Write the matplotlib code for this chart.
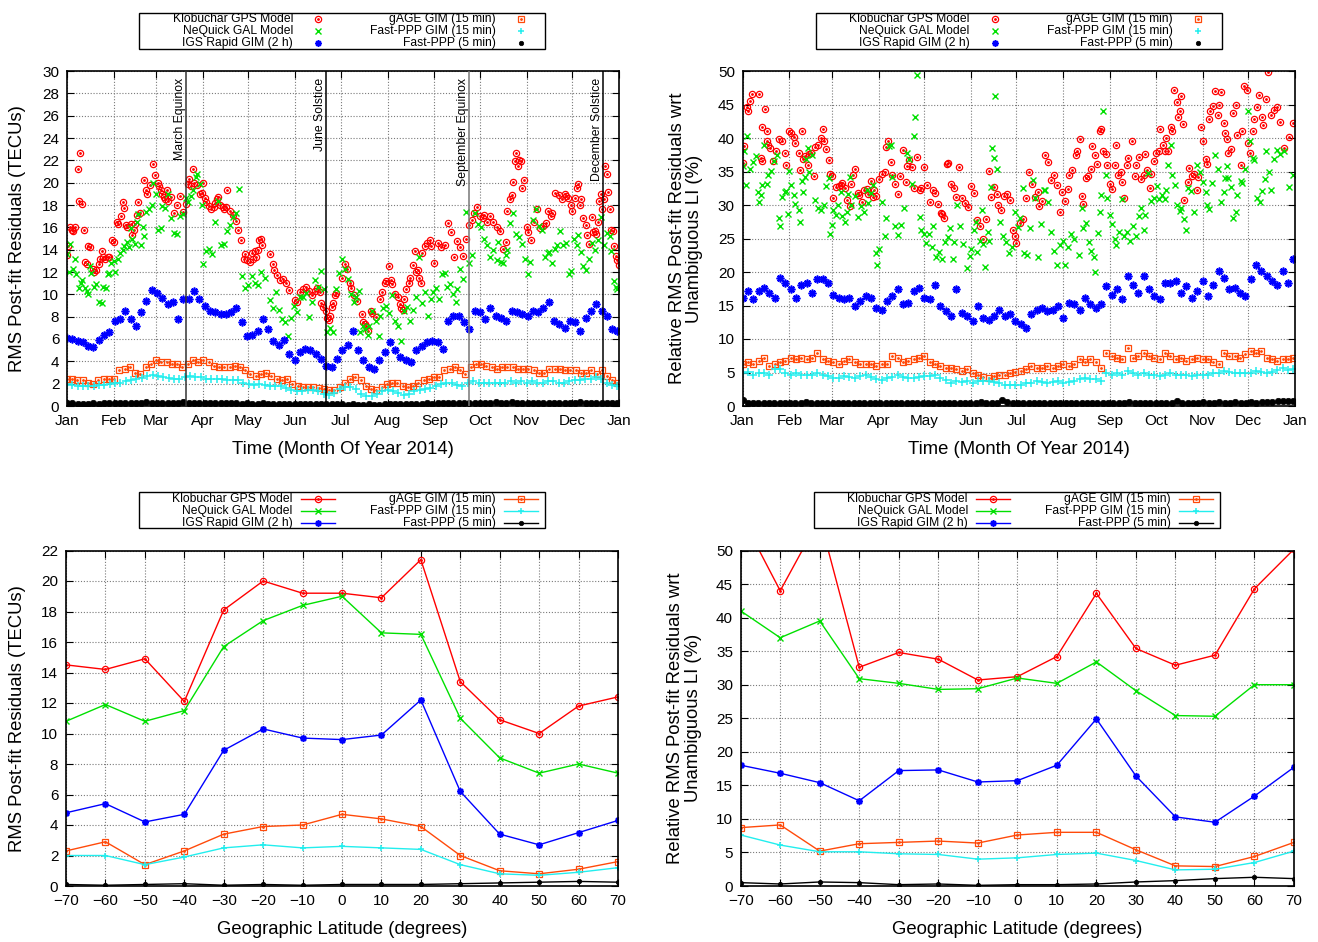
import matplotlib
matplotlib.use("Agg")
import matplotlib.pyplot as plt
from matplotlib.lines import Line2D
from matplotlib.patches import Rectangle
import numpy as np

plt.rcParams['font.family'] = ['Liberation Sans', 'DejaVu Sans']

W, H = 1318, 942

# ---------------- data ----------------
names = ['Klobuchar GPS Model', 'NeQuick GAL Model', 'IGS Rapid GIM (2 h)',
         'gAGE GIM (15 min)', 'Fast-PPP GIM (15 min)', 'Fast-PPP (5 min)']

month_labels = ['Jan', 'Feb', 'Mar', 'Apr', 'May', 'Jun', 'Jul', 'Aug',
                'Sep', 'Oct', 'Nov', 'Dec', 'Jan']
month_start = [0, 31, 59, 90, 120, 151, 181, 212, 243, 273, 304, 334, 365]
event_names = ['March Equinox', 'June Solstice', 'September Equinox', 'December Solstice']
event_day = [78.5, 171.5, 265.5, 354.5]

# --- top left: RMS post-fit residuals (TECUs), scattered series as (day, value) ---
tl_klob = [(0, 13.5), (0.5, 14.3), (2, 16.0), (3, 15.8), (4, 15.7), (5, 16.0), (7, 21.2), (8, 18.4),
           (8.5, 22.7), (10, 18.1), (11, 15.8), (12, 12.9), (13, 12.7), (14, 14.3), (15, 14.2),
           (17, 12.3), (18, 12.0), (19, 12.2), (21, 12.7), (22, 13.2), (23, 13.9), (24, 13.3),
           (25, 13.2), (27, 13.3), (28, 13.3), (30, 14.9), (31, 14.7), (33, 16.5), (34, 16.3),
           (36, 17.0), (37, 18.3), (38, 17.7), (39, 16.2), (40, 16.0), (42, 16.3), (43, 15.3),
           (44, 15.8), (45, 16.3), (46, 17.1), (47, 18.3), (48, 17.3), (51, 20.2), (52, 19.3),
           (53, 19.0), (55, 19.8), (57, 21.7), (58, 20.7), (60, 20.0), (61, 19.7), (62, 19.3),
           (63, 19.0), (64, 18.7), (65, 18.5), (66, 19.3), (67, 18.4), (69, 18.7), (71, 17.3),
           (73, 18.0), (75, 18.8), (77, 17.4), (79, 18.1), (80, 19.9), (81, 20.3), (82, 19.7),
           (83, 21.2), (84, 20.0), (86, 19.8), (88, 19.0), (89, 19.1), (90, 20.0), (91, 18.6),
           (92, 18.3), (94, 17.9), (95, 17.6), (97, 17.8), (98, 18.2), (99, 18.5), (100, 18.7),
           (101, 18.0), (103, 17.8), (104, 17.6), (105, 17.8), (106, 19.3), (108, 17.5),
           (110, 17.1), (112, 16.6), (113, 15.8), (115, 14.9), (117, 13.2), (118, 13.6),
           (119, 13.1), (121, 12.9), (122, 13.7), (123, 13.2), (124, 13.9), (125, 13.3),
           (126, 14.0), (127, 14.9), (128, 15.0), (129, 14.4), (134, 13.6), (136, 12.7),
           (137, 12.2), (139, 11.7), (141, 11.3), (143, 11.4), (145, 11.0), (147, 10.4),
           (151, 9.5), (152, 9.3), (154, 10.2), (156, 10.5), (158, 10.7), (160, 10.3), (162, 9.9),
           (164, 10.3), (165, 10.6), (167, 10.2), (168, 9.2), (169, 8.9), (171, 8.5), (172, 7.9),
           (173, 7.7), (174, 8.1), (175, 8.9), (176, 9.2), (177, 9.9), (178, 10.1), (182, 11.5),
           (184, 12.7), (185, 12.3), (187, 11.0), (188, 10.6), (190, 9.9), (192, 9.4), (195, 8.2),
           (196, 7.5), (197, 7.3), (198, 7.2), (199, 6.7), (201, 8.5), (202, 8.3), (204, 8.0),
           (207, 9.6), (208, 10.2), (210, 11.0), (211, 11.2), (213, 12.5), (214, 11.3),
           (215, 10.9), (217, 10.0), (219, 9.8), (220, 9.1), (221, 8.8), (222, 8.6), (223, 9.6),
           (224, 10.5), (226, 11.0), (227, 11.5), (229, 12.6), (230, 13.9), (231, 12.0),
           (232, 12.2), (233, 11.5), (234, 11.0), (235, 13.7), (237, 14.3), (238, 14.6),
           (240, 14.9), (241, 14.3), (243, 12.8), (245, 14.6), (247, 14.2), (250, 14.4),
           (252, 16.4), (254, 15.6), (256, 13.3), (258, 14.8), (260, 14.2), (262, 13.4),
           (264, 15.0), (266, 16.2), (268, 16.7), (269, 17.3), (271, 17.8), (273, 17.0),
           (275, 16.8), (276, 17.1), (278, 16.5), (280, 17.0), (282, 16.5), (284, 16.0),
           (286, 15.7), (288, 14.1), (290, 14.7), (291, 17.5), (293, 18.5), (294, 18.9),
           (295, 20.1), (296, 21.9), (297, 22.7), (298, 21.5), (299, 22.0), (300, 21.9),
           (301, 19.5), (302, 20.2), (304, 16.0), (305, 15.6), (307, 14.9), (309, 16.5),
           (311, 17.6), (313, 15.9), (315, 16.1), (317, 16.4), (318, 17.5), (320, 17.0),
           (321, 17.3), (323, 19.1), (325, 18.9), (327, 18.5), (329, 19.0), (330, 18.8),
           (331, 18.6), (333, 18.0), (334, 17.5), (336, 18.6), (337, 19.5), (338, 19.9),
           (339, 18.0), (340, 18.5), (341, 16.8), (343, 16.2), (344, 15.3), (345, 14.5),
           (347, 16.9), (348, 15.6), (349, 15.7), (350, 15.4), (351, 16.5), (352, 18.4),
           (353, 19.0), (354, 17.6), (355, 18.5), (356, 21.5), (357, 20.8), (357.5, 19.2),
           (359, 17.6), (360, 15.8), (361, 15.7), (362, 14.3), (363, 13.4), (364, 13.1),
           (365, 12.6)]

tl_neq = [(0, 13.6), (1, 12.0), (2, 14.5), (4, 12.3), (5, 13.2), (6, 11.8), (8, 10.6), (9, 11.0),
          (10, 11.3), (12, 10.6), (13, 10.3), (14, 10.0), (15, 12.5), (16, 11.9), (18, 10.7),
          (19, 10.9), (21, 9.3), (23, 9.2), (24, 10.7), (26, 10.6), (27, 11.8), (28, 11.9),
          (29, 12.8), (31, 13.0), (32, 12.0), (34, 13.2), (35, 13.7), (37, 14.0), (38, 14.3),
          (40, 14.7), (41, 14.2), (42, 15.9), (43, 15.0), (45, 14.5), (46, 16.5), (47, 17.2),
          (49, 14.4), (50, 16.0), (51, 15.2), (52, 17.4), (54, 17.6), (56, 18.0), (57, 20.0),
          (59, 19.0), (60, 15.8), (62, 15.9), (63, 17.9), (65, 17.7), (67, 19.0), (69, 16.8),
          (71, 15.5), (73, 15.4), (75, 17.0), (77, 17.2), (79, 18.6), (80, 18.3), (82, 18.8),
          (83, 19.3), (85, 20.5), (86, 20.8), (88, 19.9), (89, 18.0), (90, 12.7), (92, 13.9),
          (94, 14.1), (96, 13.6), (98, 16.5), (100, 18.4), (102, 14.4), (104, 14.5), (106, 15.7),
          (108, 16.2), (110, 16.9), (112, 17.3), (114, 19.4), (116, 11.6), (118, 10.6),
          (120, 10.8), (122, 11.6), (124, 11.0), (126, 10.8), (128, 12.0), (131, 11.5), (134, 9.5),
          (136, 8.8), (138, 10.2), (140, 8.6), (142, 7.8), (144, 7.5), (146, 6.3), (148, 7.9),
          (150, 9.0), (152, 8.4), (154, 9.8), (156, 9.8), (158, 10.1), (160, 8.0), (162, 9.3),
          (164, 11.3), (166, 10.7), (168, 12.1), (170, 10.5), (172, 6.6), (174, 7.0), (176, 6.6),
          (178, 10.5), (180, 11.9), (182, 13.2), (184, 12.3), (186, 11.4), (188, 10.0), (190, 9.3),
          (191, 9.8), (193, 10.3), (194, 6.6), (196, 7.2), (197, 6.9), (199, 6.4), (200, 7.2),
          (202, 8.5), (204, 7.6), (206, 6.3), (207, 8.1), (209, 8.8), (211, 9.0), (213, 8.3),
          (215, 9.9), (217, 7.6), (219, 7.2), (221, 5.8), (223, 8.5), (225, 8.9), (227, 7.6),
          (229, 8.6), (231, 9.8), (233, 13.3), (235, 9.2), (237, 10.2), (239, 8.1), (241, 9.6),
          (242, 10.2), (244, 10.6), (246, 9.6), (248, 11.8), (250, 11.9), (251, 10.7), (253, 10.9),
          (255, 10.0), (257, 9.3), (258, 10.5), (260, 12.3), (262, 11.4), (264, 17.4), (266, 12.8),
          (268, 13.5), (270, 17.3), (272, 16.3), (274, 16.0), (276, 15.0), (278, 14.4),
          (280, 13.3), (282, 14.0), (284, 13.1), (285, 14.7), (287, 12.9), (288, 12.8),
          (290, 13.5), (291, 14.0), (293, 16.4), (295, 17.3), (297, 15.4), (299, 15.1),
          (301, 14.5), (303, 13.2), (305, 11.8), (306, 12.9), (308, 16.7), (310, 17.6),
          (312, 16.1), (314, 15.8), (316, 13.3), (318, 13.7), (319, 13.8), (321, 12.8),
          (323, 14.1), (324, 14.4), (326, 15.7), (328, 14.4), (330, 14.6), (332, 11.8),
          (333, 12.1), (335, 15.0), (337, 14.4), (338, 15.3), (340, 13.8), (341, 12.5),
          (343, 12.2), (345, 13.2), (347, 14.6), (349, 14.0), (351, 14.9), (353, 16.9),
          (355, 14.4), (357, 15.5), (359, 15.2), (360, 13.9), (362, 11.2), (363, 10.7), (364, 10.5)]

# dense series, read at evenly spaced days from Jan 1 to Dec 31
tl_igs = [6.1, 6.0, 5.8, 5.7, 5.4, 5.3, 5.9, 6.4, 6.6, 7.6,
          7.8, 8.5, 7.8, 7.2, 8.4, 9.4, 10.4, 10.1, 9.7, 9.1,
          9.3, 7.8, 9.6, 9.6, 10.3, 9.6, 9.0, 8.5, 8.4, 8.2,
          8.2, 8.4, 8.8, 7.5, 6.3, 6.4, 6.7, 7.8, 6.9, 5.8,
          5.5, 5.9, 4.7, 4.1, 4.8, 5.1, 5.0, 4.7, 4.2, 3.6,
          3.5, 4.2, 5.0, 5.5, 6.7, 5.0, 4.1, 3.5, 3.3, 4.1,
          4.8, 5.7, 5.0, 4.4, 4.1, 3.9, 5.0, 5.4, 5.7, 5.8,
          5.7, 5.1, 7.6, 8.1, 8.1, 7.5, 6.9, 8.5, 8.4, 7.8,
          8.8, 8.1, 7.9, 7.6, 8.5, 8.4, 8.2, 8.1, 8.5, 8.4,
          8.8, 9.3, 7.6, 7.3, 7.0, 7.6, 7.5, 6.7, 7.9, 8.5,
          9.1, 8.5, 8.1, 6.9, 6.7]
tl_gage = [2.4, 2.4, 2.3, 2.3, 2.1, 2.0, 2.3, 2.4, 2.4, 2.4,
           3.2, 3.3, 3.5, 3.0, 2.9, 3.5, 3.8, 4.1, 3.9, 3.9,
           3.8, 3.8, 3.5, 3.8, 4.1, 3.9, 4.1, 3.9, 3.6, 3.5,
           3.5, 3.5, 3.6, 3.5, 3.2, 2.9, 2.7, 2.9, 3.0, 2.7,
           2.4, 2.3, 2.4, 2.0, 1.8, 1.7, 1.7, 1.7, 1.6, 1.5,
           1.4, 1.4, 1.7, 2.1, 2.4, 2.6, 2.3, 1.8, 1.5, 1.4,
           1.7, 2.0, 2.1, 2.1, 1.8, 1.7, 1.8, 2.1, 2.3, 2.4,
           2.6, 2.6, 3.2, 3.3, 3.5, 3.2, 2.9, 3.5, 3.8, 3.8,
           3.6, 3.5, 3.3, 3.5, 3.5, 3.5, 3.3, 3.3, 3.3, 3.2,
           3.0, 3.0, 3.3, 3.3, 3.3, 3.2, 3.2, 3.2, 3.0, 3.0,
           3.2, 2.9, 3.2, 2.7, 2.3, 2.1]
tl_fgim = [2.0, 1.9, 1.8, 1.8, 1.8, 1.8, 1.9, 1.9, 2.0, 2.1,
           2.1, 2.2, 2.3, 2.4, 2.5, 2.7, 2.8, 2.7, 2.6, 2.5,
           2.4, 2.4, 2.6, 2.7, 2.6, 2.6, 2.4, 2.4, 2.4, 2.4,
           2.3, 2.3, 2.3, 2.1, 2.0, 1.9, 2.0, 1.9, 1.8, 1.8,
           1.8, 1.6, 1.4, 1.3, 1.3, 1.4, 1.4, 1.3, 1.1, 1.0,
           1.2, 1.5, 1.7, 1.7, 1.5, 1.1, 0.9, 0.9, 1.1, 1.3,
           1.4, 1.3, 1.2, 1.0, 1.1, 1.3, 1.4, 1.5, 1.6, 1.8,
           2.0, 2.1, 2.1, 1.9, 1.8, 2.1, 2.2, 2.1, 2.1, 2.1,
           2.1, 2.1, 2.1, 2.2, 2.1, 2.2, 2.1, 2.2, 2.1, 2.1,
           2.2, 2.2, 2.1, 2.1, 2.2, 2.3, 2.3, 2.4, 2.4, 2.6,
           2.4, 2.1, 1.9, 1.8]
tl_fppp = [0.3, 0.25, 0.2, 0.2, 0.2, 0.25, 0.2, 0.25, 0.3, 0.25,
           0.3, 0.3, 0.25, 0.3, 0.3, 0.35, 0.3, 0.3, 0.3, 0.25,
           0.3, 0.3, 0.35, 0.3, 0.3, 0.3, 0.25, 0.3, 0.3, 0.25,
           0.3, 0.25, 0.25, 0.2, 0.25, 0.2, 0.2, 0.25, 0.2, 0.2,
           0.2, 0.2, 0.15, 0.2, 0.2, 0.15, 0.2, 0.15, 0.15, 0.2,
           0.15, 0.2, 0.15, 0.1, 0.15, 0.1, 0.1, 0.15, 0.1, 0.1,
           0.15, 0.15, 0.2, 0.15, 0.2, 0.2, 0.2, 0.2, 0.25, 0.2,
           0.25, 0.25, 0.25, 0.3, 0.3, 0.25, 0.3, 0.3, 0.3, 0.3,
           0.3, 0.35, 0.3, 0.3, 0.35, 0.3, 0.3, 0.3, 0.25, 0.3,
           0.3, 0.3, 0.3, 0.25, 0.3, 0.3, 0.3, 0.35, 0.3, 0.3,
           0.3, 0.3, 0.3, 0.3, 0.3]

# --- top right: relative RMS wrt unambiguous LI (%) ---
tr_klob = [(0, 36.3), (1, 38.8), (3, 44.6), (3.5, 44.0), (5, 45.5), (6, 46.6), (11, 46.6), (15, 44.4),
           (13, 41.6), (16, 41.0), (12, 37.0), (13, 36.5), (16, 39.6), (17, 39.0), (18, 38.5),
           (20, 36.5), (22, 38.0), (24, 39.8), (26, 39.5), (28, 37.7), (29, 36.0), (31, 41.1),
           (32, 40.8), (34, 40.2), (35, 39.3), (37, 37.8), (38, 35.2), (39, 41.0), (40, 36.8),
           (41, 37.3), (43, 36.0), (44, 37.6), (45, 37.8), (47, 34.3), (48, 38.6), (50, 38.9),
           (52, 40.0), (53, 41.3), (54, 39.5), (55, 38.3), (57, 36.7), (58, 34.7), (59, 34.4),
           (60, 31.0), (62, 32.7), (64, 32.8), (65, 33.0), (66, 33.3), (68, 32.5), (69, 30.7),
           (71, 29.9), (72, 33.1), (73, 34.5), (74, 35.4), (76, 31.8), (77, 31.5), (79, 30.4),
           (80, 32.2), (82, 32.4), (83, 31.6), (85, 33.6), (86, 31.2), (87, 32.3), (88, 31.3),
           (90, 33.9), (92, 34.7), (94, 35.0), (95, 38.7), (96, 39.6), (98, 36.4), (99, 34.5),
           (101, 33.1), (103, 31.6), (104, 34.3), (106, 38.2), (108, 33.4), (109, 35.8),
           (110, 36.7), (112, 35.6), (113, 32.6), (115, 37.1), (117, 32.3), (118, 32.5),
           (120, 35.7), (122, 33.0), (124, 30.5), (126, 32.2), (127, 31.8), (129, 30.2),
           (131, 28.8), (132, 28.6), (133, 28.1), (135, 36.1), (136, 36.2), (138, 33.1),
           (140, 32.6), (141, 31.2), (143, 35.7), (145, 31.1), (147, 30.3), (149, 29.7),
           (151, 32.8), (153, 31.8), (155, 27.7), (157, 26.8), (159, 25.0), (161, 27.9),
           (163, 35.1), (164, 31.2), (166, 32.7), (168, 31.7), (169, 30.0), (171, 29.3),
           (173, 31.3), (175, 31.6), (177, 30.7), (179, 26.2), (180, 25.4), (181, 24.3),
           (183, 27.3), (185, 27.9), (187, 31.0), (189, 35.0), (191, 33.2), (193, 31.2),
           (195, 32.0), (196, 29.9), (198, 30.6), (200, 37.5), (202, 36.4), (204, 33.7),
           (206, 34.5), (208, 33.0), (210, 28.9), (211, 32.0), (213, 30.6), (215, 32.4),
           (216, 34.5), (218, 35.2), (220, 37.4), (221, 38.0), (223, 39.8), (224, 31.4),
           (225, 30.1), (227, 34.1), (228, 34.3), (230, 35.4), (231, 38.8), (233, 37.4),
           (234, 36.1), (236, 41.0), (237, 41.4), (238, 38.0), (240, 37.6), (241, 35.9),
           (243, 33.2), (244, 32.4), (246, 36.0), (247, 38.9), (248, 34.5), (250, 35.0),
           (251, 33.5), (252, 31.1), (254, 35.9), (255, 37.0), (257, 39.5), (259, 34.3),
           (260, 36.0), (262, 37.1), (263, 33.9), (265, 34.5), (266, 37.6), (267, 35.2),
           (269, 32.6), (270, 34.6), (272, 36.5), (273, 37.8), (275, 38.0), (276, 41.3),
           (278, 38.9), (279, 38.0), (280, 40.0), (281, 38.1), (283, 41.7), (284, 41.0),
           (285, 47.2), (287, 45.3), (288, 43.1), (289, 44.1), (290, 46.2), (291, 42.1),
           (292, 30.8), (294, 33.5), (295, 35.5), (297, 34.3), (298, 34.6), (300, 32.3),
           (301, 34.2), (303, 41.6), (304, 39.6), (306, 36.9), (307, 36.1), (308, 42.9),
           (309, 44.0), (311, 44.8), (312, 47.0), (314, 43.4), (315, 45.0), (316, 46.9),
           (318, 42.3), (319, 40.8), (320, 39.9), (321, 37.8), (323, 38.4), (324, 43.7),
           (326, 44.9), (327, 40.4), (329, 36.0), (330, 41.1), (331, 47.7), (333, 47.1),
           (334, 39.2), (335, 37.7), (337, 41.1), (338, 42.8), (340, 44.6), (341, 46.4),
           (343, 43.2), (344, 41.9), (346, 45.8), (347, 49.8), (349, 43.4), (351, 44.2),
           (353, 44.6), (355, 42.4), (358, 38.5), (361, 40.1), (364, 42.3)]

tr_neq = [(0, 35.8), (1, 38.0), (2, 33.0), (3, 40.3), (5, 35.4), (7, 36.4), (9, 37.3), (10, 32.0),
          (11, 30.5), (12, 31.5), (13, 33.0), (14, 39.0), (16, 33.2), (17, 34.5), (19, 35.1),
          (21, 36.5), (23, 37.5), (24, 28.0), (25, 26.8), (26, 31.2), (28, 32.0), (29, 32.1),
          (30, 28.6), (31, 35.1), (32, 33.0), (34, 31.5), (35, 30.1), (37, 29.2), (38, 27.4),
          (39, 33.6), (40, 32.0), (41, 34.2), (42, 36.8), (43, 38.5), (44, 35.0), (46, 37.5),
          (48, 30.8), (50, 29.5), (52, 29.3), (54, 30.0), (55, 32.9), (57, 34.0), (58, 25.7),
          (59, 27.0), (60, 29.3), (62, 28.5), (63, 30.0), (65, 31.9), (66, 28.3), (68, 27.5),
          (69, 29.0), (70, 31.7), (71, 34.2), (72, 30.0), (74, 31.4), (76, 28.2), (78, 29.9),
          (80, 29.0), (82, 32.3), (83, 30.3), (85, 31.8), (86, 33.0), (88, 22.8), (89, 21.0),
          (90, 23.5), (92, 30.5), (94, 25.4), (95, 28.1), (97, 38.8), (98, 39.0), (99, 34.2),
          (101, 26.8), (103, 25.5), (105, 27.0), (107, 29.6), (109, 37.8), (110, 36.8),
          (112, 33.1), (113, 40.3), (114, 43.1), (115, 49.4), (117, 28.2), (118, 26.2),
          (120, 25.7), (121, 24.3), (123, 25.7), (125, 23.7), (126, 26.8), (128, 22.2),
          (130, 23.0), (132, 22.0), (134, 24.5), (136, 25.2), (137, 26.5), (139, 22.0),
          (140, 24.5), (142, 30.0), (144, 26.8), (146, 24.2), (148, 20.6), (150, 22.4),
          (151, 23.4), (153, 26.3), (154, 27.5), (155, 23.0), (157, 24.6), (158, 29.2),
          (159, 24.2), (160, 20.7), (162, 26.0), (163, 24.6), (164, 32.7), (165, 38.5),
          (166, 37.0), (167, 46.3), (168, 35.3), (170, 27.5), (172, 25.3), (174, 24.5),
          (176, 22.8), (178, 23.7), (180, 29.0), (182, 26.7), (183, 28.0), (185, 32.5),
          (186, 22.8), (188, 22.6), (190, 26.6), (192, 33.8), (193, 31.0), (195, 22.3),
          (197, 27.2), (199, 32.3), (200, 32.3), (202, 30.5), (204, 26.0), (206, 23.2),
          (208, 21.0), (210, 24.0), (212, 24.7), (213, 21.0), (215, 23.8), (217, 25.7),
          (219, 25.0), (222, 22.6), (224, 29.6), (225, 26.5), (227, 27.3), (229, 24.5),
          (230, 23.2), (232, 22.3), (233, 20.0), (235, 25.8), (236, 29.0), (237, 31.5),
          (238, 44.0), (240, 34.5), (241, 31.0), (243, 28.5), (244, 27.2), (246, 25.0),
          (247, 24.0), (249, 26.0), (251, 30.9), (252, 25.3), (254, 26.0), (256, 24.7),
          (258, 26.8), (260, 25.3), (262, 28.3), (263, 29.5), (265, 26.2), (266, 28.5),
          (268, 34.8), (270, 30.6), (272, 31.0), (274, 32.9), (275, 30.9), (277, 31.5),
          (279, 30.9), (280, 32.2), (281, 36.0), (283, 38.9), (284, 34.5), (286, 33.0),
          (287, 30.0), (289, 29.1), (290, 29.6), (292, 27.9), (293, 26.2), (294, 32.5),
          (296, 32.1), (298, 29.0), (300, 36.0), (302, 34.9), (304, 33.5), (306, 32.0),
          (307, 30.0), (308, 29.4), (310, 33.3), (312, 37.5), (314, 35.3), (316, 30.5),
          (318, 32.0), (319, 34.0), (320, 35.8), (321, 34.0), (323, 32.7), (324, 28.1),
          (326, 29.0), (327, 31.5), (329, 33.6), (330, 33.3), (332, 35.3), (334, 44.0),
          (335, 39.5), (337, 37.0), (338, 36.7), (340, 31.0), (342, 30.5), (343, 32.1),
          (345, 33.9), (346, 38.0), (348, 35.0), (349, 32.2), (351, 36.8), (353, 38.2),
          (355, 37.6), (358, 38.0), (361, 32.7), (364, 34.5)]

tr_igs = [16.1, 17.1, 15.9, 17.1, 17.6, 16.9, 16.1, 19.1, 18.4, 17.4,
          16.1, 18.1, 18.4, 16.9, 18.9, 18.9, 18.4, 16.6, 16.1, 15.9,
          16.1, 14.9, 15.6, 16.4, 16.1, 14.7, 14.4, 15.6, 16.4, 17.4,
          15.2, 15.4, 17.1, 17.6, 16.1, 15.9, 18.1, 14.9, 14.2, 13.4,
          17.4, 13.9, 13.4, 12.7, 14.9, 13.2, 12.9, 13.4, 14.4, 13.4,
          13.7, 12.7, 12.2, 11.7, 13.7, 14.4, 14.7, 14.2, 14.4, 14.9,
          13.2, 15.4, 15.2, 14.4, 16.1, 15.2, 14.7, 15.2, 17.9, 16.6,
          17.4, 15.9, 19.4, 18.1, 16.9, 19.4, 17.4, 16.4, 15.9, 18.4,
          18.4, 18.6, 16.9, 17.9, 16.1, 17.1, 18.6, 16.4, 18.1, 20.1,
          19.1, 17.4, 17.6, 16.9, 16.4, 18.9, 21.1, 20.1, 19.4, 18.6,
          18.1, 20.1, 18.4, 21.9]
tr_gage = [6.2, 6.5, 6.2, 6.7, 7.2, 6.0, 6.2, 6.5, 6.7, 7.2,
           7.0, 7.2, 7.0, 7.2, 7.9, 7.0, 6.7, 6.5, 6.2, 6.7,
           7.0, 6.5, 6.2, 6.2, 6.2, 6.0, 6.2, 6.2, 7.5, 7.2,
           6.5, 6.7, 7.0, 7.2, 7.5, 6.5, 6.2, 6.0, 5.7, 5.7,
           5.5, 5.2, 5.5, 5.0, 4.7, 4.4, 4.2, 4.5, 4.7, 4.6,
           5.0, 5.1, 5.2, 5.5, 6.0, 5.7, 5.7, 5.9, 5.7, 6.0,
           6.2, 6.0, 6.2, 7.0, 6.5, 7.0, 6.5, 5.7, 7.9, 7.5,
           7.2, 7.0, 8.7, 7.2, 7.5, 7.9, 7.5, 7.2, 7.0, 7.9,
           7.5, 7.0, 7.2, 6.7, 7.0, 7.2, 7.0, 7.0, 6.5, 6.2,
           7.9, 7.5, 7.5, 7.2, 7.7, 8.2, 7.9, 8.2, 7.2, 7.0,
           6.7, 7.0, 7.0, 7.2]
tr_fgim = [5.0, 5.1, 4.7, 5.0, 4.9, 4.7, 5.5, 5.5, 5.0, 4.7,
           4.9, 4.7, 4.6, 4.7, 4.9, 4.7, 4.5, 4.2, 4.2, 4.5,
           4.4, 4.2, 4.5, 4.6, 4.4, 4.0, 3.9, 4.2, 4.4, 4.6,
           4.4, 4.2, 4.2, 4.4, 4.5, 4.5, 4.6, 4.2, 3.9, 3.5,
           3.7, 3.6, 3.7, 3.4, 3.7, 3.7, 3.7, 3.6, 3.4, 3.2,
           3.2, 3.2, 3.2, 3.4, 3.5, 3.7, 3.6, 3.5, 3.6, 3.7,
           3.5, 3.6, 3.7, 4.0, 4.2, 4.0, 4.0, 3.7, 5.0, 4.7,
           4.9, 4.7, 5.2, 5.0, 4.7, 4.9, 4.6, 4.7, 4.5, 4.7,
           4.9, 4.7, 4.6, 4.7, 4.5, 4.6, 4.7, 4.6, 4.9, 5.0,
           5.2, 5.1, 4.9, 5.0, 4.9, 5.0, 5.2, 5.1, 5.0, 5.1,
           5.4, 5.6, 5.4, 5.5]
tr_fppp = [0.9, 0.5, 0.5, 0.5, 0.4, 0.5, 0.5, 0.5, 0.5, 0.5,
           0.5, 0.5, 0.6, 0.5, 0.5, 0.5, 0.5, 0.4, 0.5, 0.5,
           0.5, 0.5, 0.4, 0.5, 0.5, 0.4, 0.4, 0.5, 0.5, 0.4,
           0.5, 0.5, 0.5, 0.5, 0.5, 0.4, 0.5, 0.5, 0.5, 0.5,
           0.5, 0.5, 0.5, 0.5, 0.5, 0.6, 0.5, 0.5, 0.5, 0.9,
           0.6, 0.5, 0.5, 0.5, 0.5, 0.5, 0.4, 0.5, 0.5, 0.5,
           0.5, 0.5, 0.5, 0.5, 0.5, 0.5, 0.5, 0.5, 0.5, 0.5,
           0.5, 0.5, 0.5, 0.6, 0.5, 0.5, 0.5, 0.5, 0.5, 0.5,
           0.5, 0.5, 0.8, 0.5, 0.5, 0.5, 0.5, 0.6, 0.5, 0.5,
           0.6, 0.5, 0.5, 0.6, 0.5, 0.5, 0.6, 0.5, 0.6, 0.6,
           0.6, 0.7, 0.7, 0.8, 0.7]

# --- bottom: per geographic latitude ---
latitude = [-70, -60, -50, -40, -30, -20, -10, 0, 10, 20, 30, 40, 50, 60, 70]
bl_klob = [14.5, 14.2, 14.9, 12.1, 18.1, 20.0, 19.2, 19.2, 18.9, 21.4, 13.4, 10.9, 10.0, 11.8, 12.4]
bl_neq = [10.8, 11.9, 10.8, 11.5, 15.7, 17.4, 18.4, 19.0, 16.6, 16.5, 11.0, 8.4, 7.4, 8.0, 7.4]
bl_igs = [4.8, 5.4, 4.2, 4.7, 8.9, 10.3, 9.7, 9.6, 9.9, 12.2, 6.2, 3.4, 2.7, 3.5, 4.3]
bl_gage = [2.3, 2.9, 1.4, 2.3, 3.4, 3.9, 4.0, 4.7, 4.4, 3.9, 2.0, 1.0, 0.8, 1.1, 1.6]
bl_fgim = [2.0, 2.0, 1.4, 1.9, 2.5, 2.7, 2.5, 2.6, 2.5, 2.4, 1.4, 0.8, 0.7, 0.9, 1.2]
bl_fppp = [0.1, 0.05, 0.1, 0.15, 0.05, 0.1, 0.05, 0.1, 0.1, 0.1, 0.15, 0.2, 0.25, 0.3, 0.25]

br_klob = [55.3, 44.0, 54.8, 32.6, 34.8, 33.8, 30.7, 31.2, 34.2, 43.6, 35.4, 32.9, 34.4, 44.3, 50.2]
br_neq = [41.0, 37.0, 39.5, 30.9, 30.2, 29.3, 29.4, 31.0, 30.2, 33.4, 29.1, 25.4, 25.3, 30.0, 30.0]
br_igs = [18.0, 16.8, 15.4, 12.7, 17.2, 17.3, 15.5, 15.7, 18.0, 24.9, 16.4, 10.3, 9.5, 13.4, 17.7]
br_gage = [8.7, 9.1, 5.2, 6.3, 6.5, 6.7, 6.4, 7.6, 8.0, 8.0, 5.4, 3.0, 2.9, 4.4, 6.5]
br_fgim = [7.6, 6.1, 5.1, 5.1, 4.8, 4.7, 4.0, 4.2, 4.7, 4.9, 3.8, 2.4, 2.5, 3.5, 5.2]
br_fppp = [0.5, 0.3, 0.6, 0.5, 0.2, 0.3, 0.1, 0.2, 0.2, 0.3, 0.6, 0.8, 1.1, 1.3, 1.1]

# ---------------- styles ----------------
colors = ['#ff0000', '#00e000', '#0000ff', '#ff4a0a', '#22eeee', '#000000']
mk = [dict(marker='o', mfc='none', ms=4.5, mew=0.9),
      dict(marker='x', ms=4.5, mew=1.0),
      dict(marker=(8, 2, 0), ms=5.6, mew=1.2),
      dict(marker='s', mfc='none', ms=4.8, mew=0.9),
      dict(marker='+', ms=5.2, mew=1.1),
      dict(marker='o', ms=4.6, mew=0.5)]
dotted = [True, False, False, True, False, False]

fig = plt.figure(figsize=(W / 100, H / 100), dpi=100)


def px_axes(x0, y0, x1, y1):
    return fig.add_axes([x0 / W, 1 - y1 / H, (x1 - x0) / W, (y1 - y0) / H])


def style_axes(ax, ylim, ystep):
    ax.set_ylim(0, ylim)
    ax.set_yticks(range(0, ylim + 1, ystep))
    ax.tick_params(direction='in', top=True, right=True, length=5, width=0.8,
                   labelsize=11, pad=5.5)
    ax.grid(True, color='#7a7a7a', linestyle=(0, (1, 1.6)), linewidth=0.8)
    ax.set_axisbelow(True)
    for s in ax.spines.values():
        s.set_linewidth(1.2)


def key(x0, y0, with_lines):
    fig.add_artist(Rectangle((x0 / W, 1 - (y0 + 36) / H), 406 / W, 36 / H,
                             transform=fig.transFigure, fill=False, ec='black', lw=1.0))
    for i, name in enumerate(names):
        col, row = divmod(i, 3)
        ty = 1 - (y0 + 6.3 + 12 * row) / H
        tx = x0 + (154 if col == 0 else 357)
        mx = x0 + (179 if col == 0 else 382)
        fig.text(tx / W, ty, name, ha='right', va='center', fontsize=8.7)
        if with_lines:
            fig.add_artist(Line2D([(mx - 17) / W, (mx + 17) / W], [ty, ty],
                                  transform=fig.transFigure, color=colors[i], lw=1.0))
        style = dict(mk[i])
        style['ms'] = min(style['ms'], 4.6)
        if i == 5:
            style['ms'] = 3.2
        fig.add_artist(Line2D([mx / W], [ty], transform=fig.transFigure, ls='none',
                              color=colors[i], mec=colors[i], **style))
        if dotted[i]:
            fig.add_artist(Line2D([mx / W], [ty], transform=fig.transFigure, ls='none',
                                  marker='o', ms=1.0, color=colors[i]))


def time_panel(ax, klob, neq, igs, gage, fgim, fppp, ylim, ystep, ylabel, lab_x):
    series = [list(zip(*klob)), list(zip(*neq))]
    for dense in (igs, gage, fgim, fppp):
        series.append((np.linspace(0, 364, len(dense)), dense))
    for i, (d, v) in enumerate(series):
        ax.plot(d, v, ls='none', color=colors[i], mec=colors[i], **mk[i])
        if dotted[i]:
            ax.plot(d, v, ls='none', marker='o', ms=1.0, color=colors[i])
    ax.set_xlim(0, 365)
    ax.set_xticks(month_start)
    ax.set_xticklabels(month_labels)
    style_axes(ax, ylim, ystep)
    ax.text(0.5, -0.131, 'Time (Month Of Year 2014)', transform=ax.transAxes,
            ha='center', va='center', fontsize=13.3)
    ax.text(lab_x, 0.5, ylabel, transform=ax.transAxes, rotation=90,
            ha='center', va='center', fontsize=13.3, linespacing=1.05)


def lat_panel(ax, rows, ylim, ystep, ylabel, lab_x):
    for i, v in enumerate(rows):
        style = dict(mk[i])
        style['ms'] = min(style['ms'], 4.8)
        if i == 5:
            style['ms'] = 3.2
        ax.plot(latitude, v, color=colors[i], mec=colors[i], lw=1.0, **style)
        if dotted[i]:
            ax.plot(latitude, v, ls='none', marker='o', ms=1.0, color=colors[i])
    ax.set_xlim(-70, 70)
    ax.set_xticks(latitude)
    style_axes(ax, ylim, ystep)
    ax.text(0.5, -0.131, 'Geographic Latitude (degrees)', transform=ax.transAxes,
            ha='center', va='center', fontsize=13.3)
    ax.text(lab_x, 0.5, ylabel, transform=ax.transAxes, rotation=90,
            ha='center', va='center', fontsize=13.3, linespacing=1.05)


rel_label = 'Relative RMS Post-fit Residuals wrt\nUnambiguous LI (%)'
abs_label = 'RMS Post-fit Residuals (TECUs)'

# top left
ax_tl = px_axes(67, 71, 619, 406)
time_panel(ax_tl, tl_klob, tl_neq, tl_igs, tl_gage, tl_fgim, tl_fppp, 30, 2, abs_label, -0.089)
line_cols = ['#333333', '#000000', '#777777', '#000000']
for name, day, lc in zip(event_names, event_day, line_cols):
    ax_tl.axvline(day, color=lc, lw=1.1, zorder=3)
    ax_tl.annotate(name, xy=(day, 30), xytext=(-6, -7), textcoords='offset pixels',
                   rotation=90, ha='center', va='top', fontsize=8.8)
key(139, 13, False)

# top right
ax_tr = px_axes(742.5, 71, 1295, 406)
time_panel(ax_tr, tr_klob, tr_neq, tr_igs, tr_gage, tr_fgim, tr_fppp, 50, 5, rel_label, -0.102)
key(815.5, 13, False)

# bottom left
ax_bl = px_axes(66, 550.5, 618, 886)
lat_panel(ax_bl, [bl_klob, bl_neq, bl_igs, bl_gage, bl_fgim, bl_fppp], 22, 2, abs_label, -0.087)
key(138.7, 492.3, True)

# bottom right
ax_br = px_axes(740.7, 550.5, 1294, 886)
lat_panel(ax_br, [br_klob, br_neq, br_igs, br_gage, br_fgim, br_fppp], 50, 5, rel_label, -0.101)
key(813.8, 492.3, True)

fig.savefig('out.png', dpi=100)
